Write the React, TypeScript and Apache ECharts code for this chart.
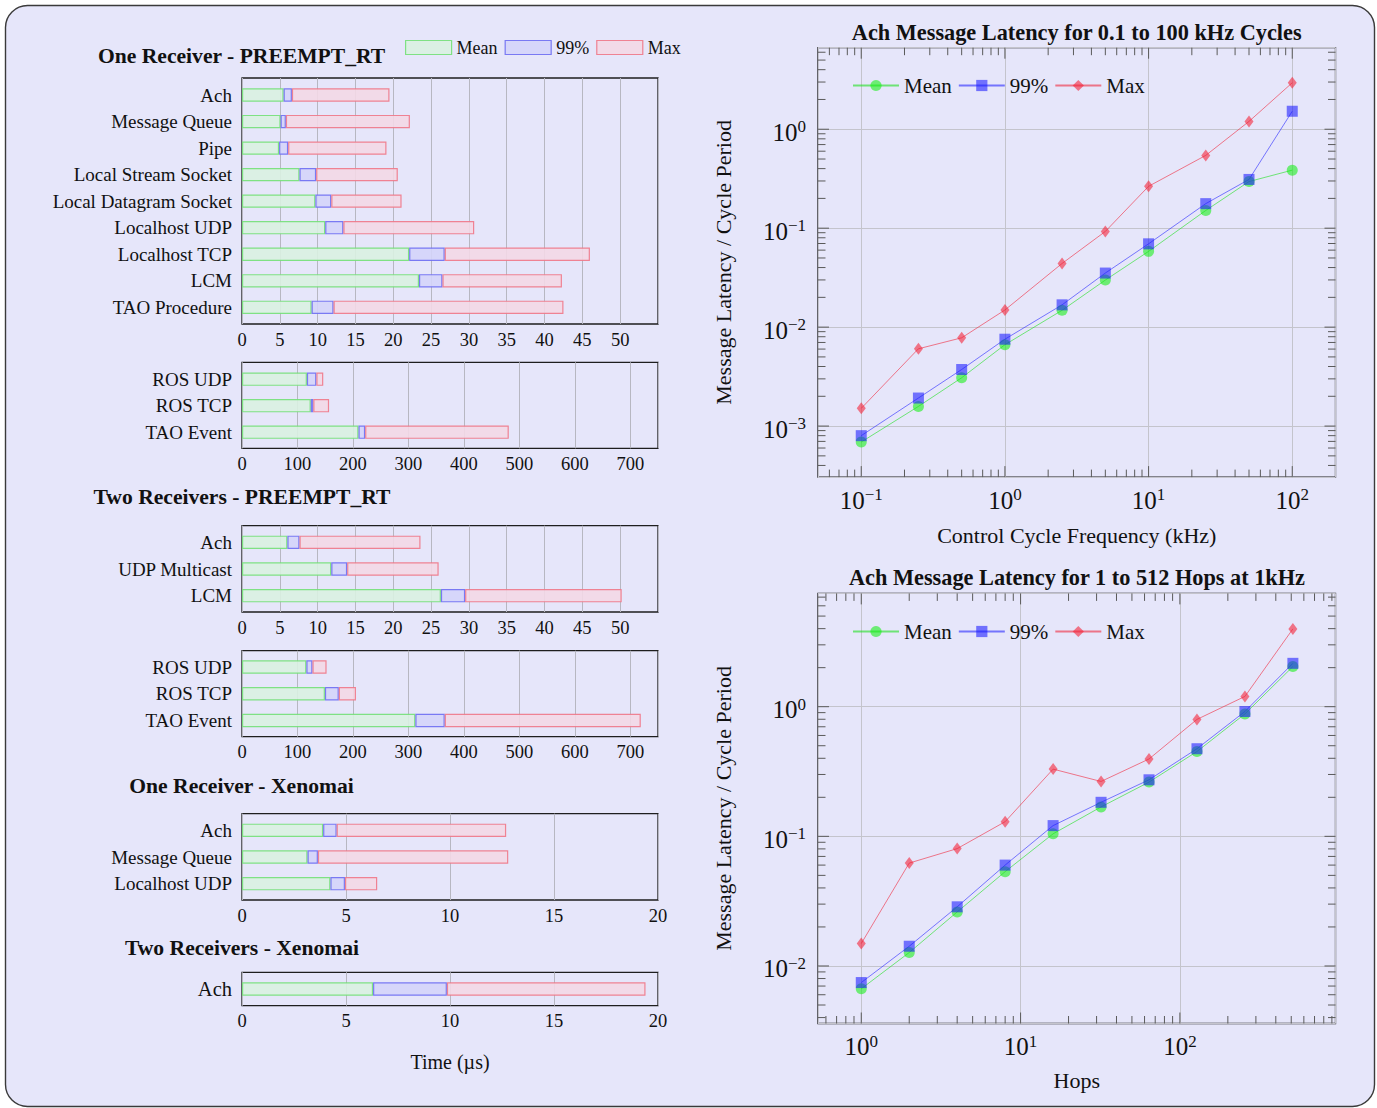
import React, { useEffect, useRef } from 'react';
import * as echarts from 'echarts';

const FONT = '"Liberation Serif", "Times New Roman", serif';
const INK = '#111';

// ---------- Bar panels (Time, µs) ----------
const rt1Cats = ['Ach', 'Message Queue', 'Pipe', 'Local Stream Socket', 'Local Datagram Socket', 'Localhost UDP', 'Localhost TCP', 'LCM', 'TAO Procedure'];
const rt1Mean = [5.5, 5.1, 4.9, 7.6, 9.7, 11.0, 22.1, 23.4, 9.2];
const rt1P99 = [6.6, 5.8, 6.1, 9.8, 11.8, 13.4, 26.8, 26.5, 12.1];
const rt1Max = [19.5, 22.2, 19.1, 20.6, 21.1, 30.7, 46.0, 42.3, 42.5];

const rosCats = ['ROS UDP', 'ROS TCP', 'TAO Event'];
const rt1RosMean = [117, 124, 210];
const rt1RosP99 = [134, 128.5, 222];
const rt1RosMax = [146.5, 157, 481];

const rt2Cats = ['Ach', 'UDP Multicast', 'LCM'];
const rt2Mean = [6.0, 11.8, 26.3];
const rt2P99 = [7.6, 13.9, 29.5];
const rt2Max = [23.6, 26.0, 50.2];

const rt2RosMean = [116, 149.5, 312.5];
const rt2RosP99 = [127, 174.5, 365.5];
const rt2RosMax = [152.5, 205.5, 719];

const xeno1Cats = ['Ach', 'Message Queue', 'Localhost UDP'];
const xeno1Mean = [3.9, 3.15, 4.25];
const xeno1P99 = [4.55, 3.65, 4.95];
const xeno1Max = [12.7, 12.8, 6.5];

const xeno2Cats = ['Ach'];
const xeno2Mean = [6.3];
const xeno2P99 = [9.85];
const xeno2Max = [19.4];

// axis ranges of the bar panels
const barAxes = [
  { max: 55, interval: 5, lastLabel: 50 },
  { max: 750, interval: 100, lastLabel: 700 },
  { max: 55, interval: 5, lastLabel: 50 },
  { max: 750, interval: 100, lastLabel: 700 },
  { max: 20, interval: 5, lastLabel: 20 },
  { max: 20, interval: 5, lastLabel: 20 },
];

// ---------- Log charts ----------
const freqKHz = [0.1, 0.25, 0.5, 1, 2.5, 5, 10, 25, 50, 100];
const freqMean = [6.9e-4, 1.58e-3, 3.08e-3, 6.64e-3, 0.0148, 0.0299, 0.0583, 0.151, 0.296, 0.386];
const freqP99 = [8.0e-4, 1.92e-3, 3.73e-3, 7.55e-3, 0.0168, 0.0352, 0.0695, 0.177, 0.311, 1.52];
const freqMax = [1.51e-3, 6.04e-3, 7.8e-3, 0.0149, 0.044, 0.0927, 0.265, 0.544, 1.2, 2.95];

const hops = [1, 2, 4, 8, 16, 32, 64, 128, 256, 512];
const hopsMean = [6.67e-3, 0.0127, 0.0261, 0.0534, 0.1046, 0.1686, 0.262, 0.451, 0.88, 2.04];
const hopsP99 = [7.45e-3, 0.0142, 0.0286, 0.06, 0.121, 0.183, 0.273, 0.474, 0.918, 2.16];
const hopsMax = [0.0149, 0.0622, 0.0804, 0.1297, 0.33, 0.265, 0.395, 0.798, 1.2, 3.98];

const freqRange = { xMin: 0.05, xMax: 200, yMin: 3.05e-4, yMax: 6.67 };
const hopsRange = { xMin: 0.535, xMax: 948, yMin: 3.6e-3, yMax: 7.48 };

// ---------- Layout ----------
const barBoxes = [
  { top: 78, bottom: 324, first: 95, step: 26.54, labelSize: 19 },
  { top: 362.3, bottom: 448.3, first: 379.2, step: 26.5, labelSize: 19 },
  { top: 525.7, bottom: 612, first: 542.3, step: 26.7, labelSize: 19 },
  { top: 650.7, bottom: 736.7, first: 667, step: 26.75, labelSize: 19 },
  { top: 813.7, bottom: 900, first: 830.3, step: 26.7, labelSize: 19 },
  { top: 972.3, bottom: 1005.7, first: 989, step: 26.7, labelSize: 20.5 },
];
const BAR_LEFT = 242;
const BAR_WIDTH = 416;

const COL = {
  meanFill: '#d9f1e1', meanLine: '#74e078',
  p99Fill: '#d4d4fa', p99Line: '#6e6ef2',
  maxFill: '#f3d8e5', maxLine: '#f07888',
  grid: '#b7b7c1', logGrid: '#c4c4cc', frame: '#1e1e1e', tick: '#5a5a5a',
};

function powLabel(v: number) {
  const l = Math.log10(v);
  const e = Math.round(l);
  if (Math.abs(l - e) > 1e-6) return '';
  return `{b|10}{s|${e < 0 ? '\u2212' + -e : e}}`;
}
const powRich = {
  b: { fontSize: 25, fontFamily: FONT, color: INK, lineHeight: 28 },
  s: { fontSize: 17, fontFamily: FONT, color: INK, lineHeight: 17, verticalAlign: 'top' },
};

function tickSeries(gi: number, axis: 'x' | 'y', lo: number, hi: number) {
  const data: number[][] = [];
  for (let e = Math.floor(Math.log10(lo)) - 1; e <= Math.ceil(Math.log10(hi)); e++) {
    for (let m = 1; m <= 9; m++) {
      const v = m * Math.pow(10, e);
      if (v > lo * 1.001 && v < hi * 0.999) {
        data.push(axis === 'x' ? [v, 1, m === 1 ? 1 : 0] : [1, v, m === 1 ? 1 : 0]);
      }
    }
  }
  return {
    type: 'custom',
    xAxisIndex: gi,
    yAxisIndex: gi,
    silent: true,
    z: 4,
    encode: { x: 0, y: 1 },
    data,
    renderItem: (params: any, api: any) => {
      const cs = params.coordSys;
      const p = api.coord([api.value(0), api.value(1)]);
      const len = api.value(2) ? 11 : 7.5;
      const st = { stroke: COL.tick, lineWidth: 1 };
      if (axis === 'x') {
        const b = cs.y + cs.height;
        return {
          type: 'group',
          children: [
            { type: 'line', shape: { x1: p[0], y1: b, x2: p[0], y2: b - len }, style: st },
            { type: 'line', shape: { x1: p[0], y1: cs.y, x2: p[0], y2: cs.y + len }, style: st },
          ],
        };
      }
      const r = cs.x + cs.width;
      return {
        type: 'group',
        children: [
          { type: 'line', shape: { x1: cs.x, y1: p[1], x2: cs.x + len, y2: p[1] }, style: st },
          { type: 'line', shape: { x1: r, y1: p[1], x2: r - len, y2: p[1] }, style: st },
        ],
      };
    },
  };
}

function buildOption() {
  const panels = [
    { cats: rt1Cats, mean: rt1Mean, p99: rt1P99, max: rt1Max },
    { cats: rosCats, mean: rt1RosMean, p99: rt1RosP99, max: rt1RosMax },
    { cats: rt2Cats, mean: rt2Mean, p99: rt2P99, max: rt2Max },
    { cats: rosCats, mean: rt2RosMean, p99: rt2RosP99, max: rt2RosMax },
    { cats: xeno1Cats, mean: xeno1Mean, p99: xeno1P99, max: xeno1Max },
    { cats: xeno2Cats, mean: xeno2Mean, p99: xeno2P99, max: xeno2Max },
  ];

  const grid: any[] = [];
  const xAxis: any[] = [];
  const yAxis: any[] = [];
  const series: any[] = [];

  panels.forEach((p, i) => {
    const box = barBoxes[i];
    const ax = barAxes[i];
    const n = p.cats.length;
    const outer = grid.length;
    grid.push({
      left: BAR_LEFT, top: box.top, width: BAR_WIDTH, height: box.bottom - box.top,
      show: true, borderColor: COL.frame, borderWidth: 1.3, backgroundColor: 'transparent',
      outerBoundsMode: 'none',
    });
    const inner = grid.length;
    grid.push({
      left: BAR_LEFT, top: box.first - box.step / 2, width: BAR_WIDTH, height: n * box.step,
      show: false, outerBoundsMode: 'none',
    });
    const isLast = i === panels.length - 1;
    xAxis.push({
      gridIndex: outer, type: 'value', min: 0, max: ax.max, interval: ax.interval,
      axisLine: { show: false }, axisTick: { show: false },
      splitLine: { show: true, lineStyle: { color: COL.grid, width: 1 } },
      axisLabel: {
        fontSize: 18.5, fontFamily: FONT, color: INK, margin: 6,
        formatter: (v: number) => (v > ax.lastLabel ? '' : String(v)),
      },
      ...(isLast
        ? {
            name: 'Time (\u00b5s)', nameLocation: 'middle', nameGap: 46,
            nameTextStyle: { fontSize: 20, fontFamily: FONT, color: INK },
          }
        : {}),
    });
    yAxis.push({ gridIndex: outer, type: 'value', min: 0, max: 1, show: false });
    xAxis.push({ gridIndex: inner, type: 'value', min: 0, max: ax.max, show: false });
    yAxis.push({
      gridIndex: inner, type: 'category', data: p.cats, inverse: true,
      axisLine: { show: false }, axisTick: { show: false }, splitLine: { show: false },
      axisLabel: { fontSize: box.labelSize, fontFamily: FONT, color: INK, margin: 10, interval: 0 },
    });
    const common = { type: 'bar', xAxisIndex: inner, yAxisIndex: inner, stack: 'stk' + i, barWidth: 13.3, silent: true };
    series.push({
      ...common, name: 'bar|Mean', data: p.mean,
      itemStyle: { color: COL.meanFill, borderColor: COL.meanLine, borderWidth: 1.2, opacity: 0.9 },
    });
    series.push({
      ...common, name: 'bar|99%', data: p.p99.map((v, k) => +(v - p.mean[k]).toFixed(3)),
      itemStyle: { color: COL.p99Fill, borderColor: COL.p99Line, borderWidth: 1.2, opacity: 0.9 },
    });
    series.push({
      ...common, name: 'bar|Max', data: p.max.map((v, k) => +(v - p.p99[k]).toFixed(3)),
      itemStyle: { color: COL.maxFill, borderColor: COL.maxLine, borderWidth: 1.2, opacity: 0.9 },
    });
  });

  const logCharts = [
    {
      key: 'A', top: 47.7, height: 429.4, range: freqRange, xs: freqKHz,
      mean: freqMean, p99: freqP99, max: freqMax,
      xName: 'Control Cycle Frequency (kHz)', xGap: 47,
    },
    {
      key: 'B', top: 593.4, height: 430.1, range: hopsRange, xs: hops,
      mean: hopsMean, p99: hopsP99, max: hopsMax,
      xName: 'Hops', xGap: 46,
    },
  ];

  logCharts.forEach((c) => {
    const gi = grid.length;
    grid.push({
      left: 818, top: c.top, width: 517.5, height: c.height,
      show: true, borderColor: COL.frame, borderWidth: 1.3, backgroundColor: 'transparent',
      outerBoundsMode: 'none',
    });
    xAxis.push({
      gridIndex: gi, type: 'log', logBase: 10, min: c.range.xMin, max: c.range.xMax,
      axisLine: { show: false }, axisTick: { show: false },
      splitLine: { show: true, lineStyle: { color: COL.logGrid, width: 1 } },
      axisLabel: { formatter: powLabel, rich: powRich, margin: 9 },
      name: c.xName, nameLocation: 'middle', nameGap: c.xGap,
      nameTextStyle: { fontSize: 22, fontFamily: FONT, color: INK },
    });
    yAxis.push({
      gridIndex: gi, type: 'log', logBase: 10, min: c.range.yMin, max: c.range.yMax,
      axisLine: { show: false }, axisTick: { show: false },
      splitLine: { show: true, lineStyle: { color: COL.logGrid, width: 1 } },
      axisLabel: { formatter: powLabel, rich: powRich, margin: 12, padding: [6, 0, 0, 0] },
      name: 'Message Latency / Cycle Period', nameLocation: 'middle', nameGap: 84,
      nameTextStyle: { fontSize: 22, fontFamily: FONT, color: INK },
    });
    const mk = (vals: number[]) => c.xs.map((x, k) => [x, vals[k]]);
    const base = { type: 'line', xAxisIndex: gi, yAxisIndex: gi, silent: true, z: 3 };
    series.push({
      ...base, name: c.key + '|Mean', data: mk(c.mean), symbol: 'circle', symbolSize: 11,
      lineStyle: { color: 'rgba(30,225,30,0.6)', width: 1 },
      itemStyle: { color: 'rgba(20,240,20,0.58)' },
    });
    series.push({
      ...base, name: c.key + '|99%', data: mk(c.p99), symbol: 'rect', symbolSize: 11,
      lineStyle: { color: 'rgba(40,40,255,0.6)', width: 1 },
      itemStyle: { color: 'rgba(25,25,255,0.58)' },
    });
    series.push({
      ...base, name: c.key + '|Max', data: mk(c.max), symbol: 'diamond', symbolSize: [9, 12],
      lineStyle: { color: 'rgba(240,40,60,0.6)', width: 1 },
      itemStyle: { color: 'rgba(245,30,50,0.58)' },
    });
    series.push(tickSeries(gi, 'x', c.range.xMin, c.range.xMax));
    series.push(tickSeries(gi, 'y', c.range.yMin, c.range.yMax));
  });

  const strip = (n: string) => n.split('|')[1];
  const legend = [
    {
      data: ['bar|Mean', 'bar|99%', 'bar|Max'], left: 400, top: 33.5, orient: 'horizontal',
      icon: 'rect', itemWidth: 46, itemHeight: 14, itemGap: 7, selectedMode: false,
      itemStyle: { borderWidth: 1.2 },
      textStyle: { fontSize: 18, fontFamily: FONT, color: INK },
      formatter: strip,
    },
    {
      data: ['A|Mean', 'A|99%', 'A|Max'], left: 847, top: 70, orient: 'horizontal',
      itemWidth: 46, itemHeight: 14, itemGap: 6, selectedMode: false,
      textStyle: { fontSize: 21, fontFamily: FONT, color: INK },
      formatter: strip,
    },
    {
      data: ['B|Mean', 'B|99%', 'B|Max'], left: 847, top: 616, orient: 'horizontal',
      itemWidth: 46, itemHeight: 14, itemGap: 6, selectedMode: false,
      textStyle: { fontSize: 21, fontFamily: FONT, color: INK },
      formatter: strip,
    },
  ];

  const title = (text: string, x: number, y: number, size: number) => ({
    type: 'text', x, y, silent: true,
    style: {
      text, fill: INK, font: `bold ${size}px ${FONT}`,
      align: 'center', verticalAlign: 'middle', textAlign: 'center', textVerticalAlign: 'middle',
    },
  });

  const graphic = [
    {
      type: 'rect', z: -10, silent: true,
      shape: { x: 5.5, y: 5.5, width: 1369, height: 1101, r: 22 },
      style: { fill: '#e6e6fa', stroke: '#3a3a3a', lineWidth: 1.4 },
    },
    title('One Receiver - PREEMPT_RT', 241.6, 56, 21.6),
    title('Two Receivers - PREEMPT_RT', 242, 497.3, 21.6),
    title('One Receiver - Xenomai', 241.5, 785.7, 21.6),
    title('Two Receivers - Xenomai', 242, 948.3, 21.6),
    title('Ach Message Latency for 0.1 to 100 kHz Cycles', 1076.7, 32.2, 22.3),
    title('Ach Message Latency for 1 to 512 Hops at 1kHz', 1077, 577.9, 22.3),
  ];

  return {
    animation: false,
    backgroundColor: '#ffffff',
    textStyle: { fontFamily: FONT },
    graphic,
    legend,
    grid,
    xAxis,
    yAxis,
    series,
  };
}

export default function App() {
  const ref = useRef<HTMLDivElement>(null);
  useEffect(() => {
    if (!ref.current) return;
    const chart = echarts.init(ref.current, undefined, { renderer: 'svg' });
    chart.setOption(buildOption() as any);
    return () => chart.dispose();
  }, []);
  return (
    <div
      ref={ref}
      style={{ position: 'absolute', left: 0, top: 0, width: 1377, height: 1108 }}
    />
  );
}
